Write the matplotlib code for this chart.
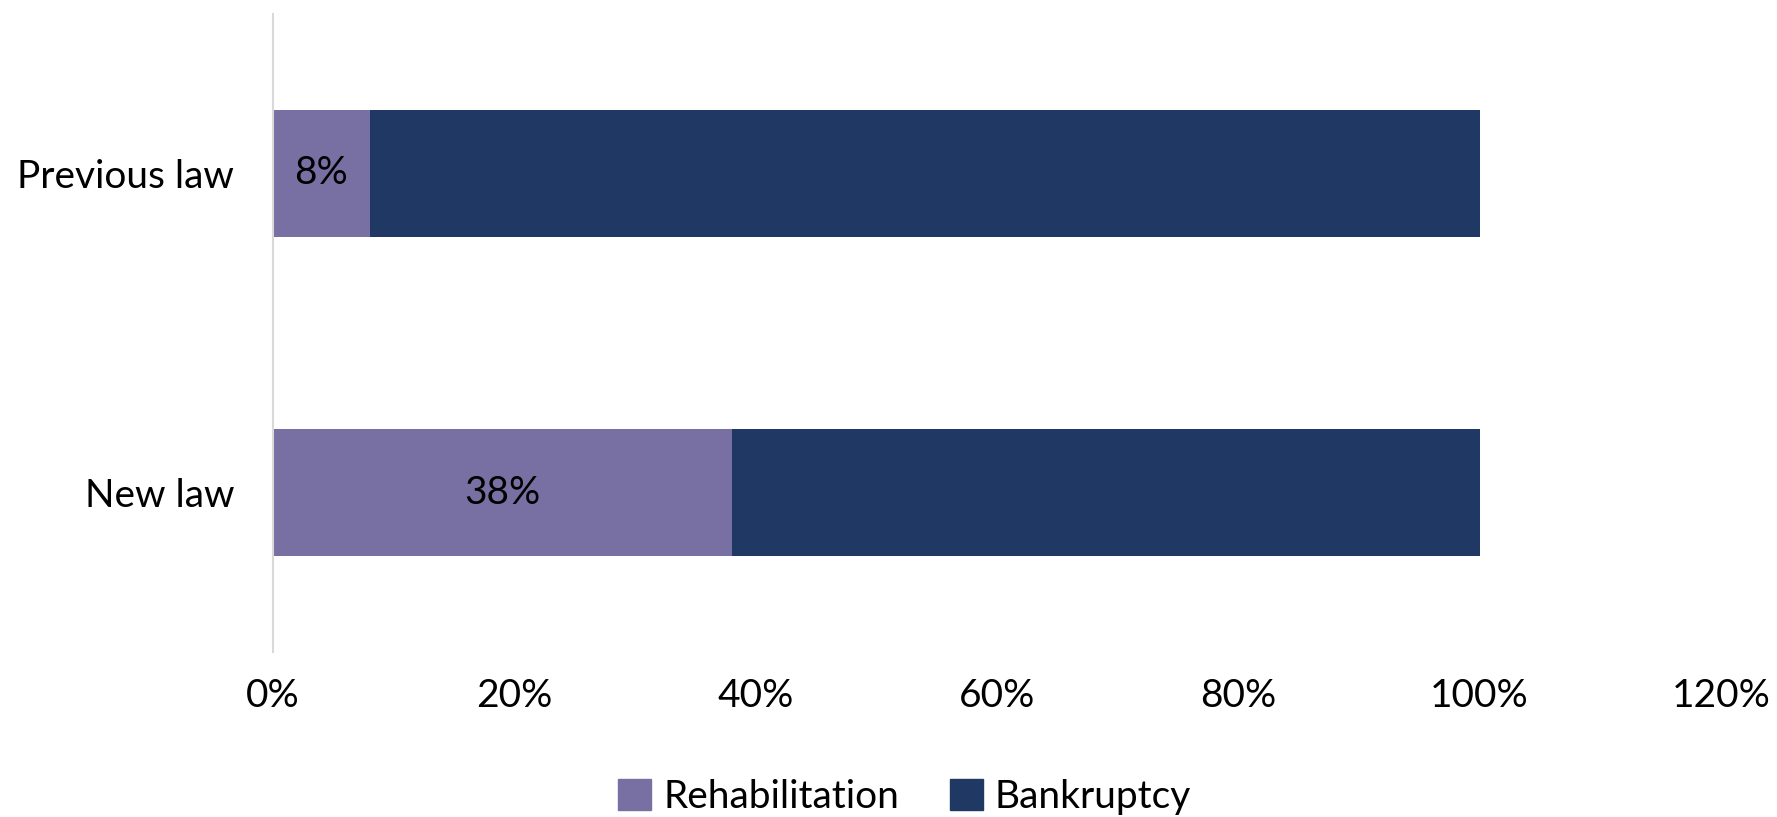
import matplotlib
matplotlib.use("Agg")
import matplotlib.pyplot as plt
from matplotlib.patches import Patch

categories = ["New law", "Previous law"]
rehabilitation = [38, 8]
bankruptcy = [62, 92]
xticks = [0, 20, 40, 60, 80, 100, 120]
xtick_labels = ["0%", "20%", "40%", "60%", "80%", "100%", "120%"]
series_names = ["Rehabilitation", "Bankruptcy"]
colors = ["#7870A3", "#203864"]

plt.rcParams['font.family'] = ['Lato', 'DejaVu Sans']
W, H = 1777, 817
fig = plt.figure(figsize=(W/100, H/100), dpi=100)
ax = fig.add_axes([273/W, 1 - 652/H, (1721-273)/W, (652-14)/H])

y = list(range(len(categories)))
ax.barh(y, rehabilitation, height=0.4, color=colors[0], label=series_names[0])
ax.barh(y, bankruptcy, left=rehabilitation, height=0.4, color=colors[1], label=series_names[1])

for yi, v in zip(y, rehabilitation):
    ax.text(v/2, yi, f"{v}%", ha="center", va="center", fontsize=28, color="black")

ax.set_xlim(0, 120)
ax.set_ylim(-0.5, 1.5)
ax.set_yticks(y)
ax.set_yticklabels(categories, fontsize=28)
ax.set_xticks(xticks)
ax.set_xticklabels(xtick_labels, fontsize=28)
ax.tick_params(axis='both', length=0)
ax.tick_params(axis='x', pad=19)
ax.tick_params(axis='y', pad=28)
for s in ["top", "right", "bottom"]:
    ax.spines[s].set_visible(False)
ax.spines["left"].set_color("#D9D9D9")
ax.spines["left"].set_linewidth(1.5)

handles = [Patch(color=c, label=n) for c, n in zip(colors, series_names)]
fig.legend(handles=handles, loc="center", bbox_to_anchor=(0.509, 1 - 797/H), ncol=2,
           frameon=False, fontsize=28, handlelength=0.85, handleheight=0.85,
           handletextpad=0.3, columnspacing=1.3)

fig.savefig("out.png", dpi=100, facecolor="white")
